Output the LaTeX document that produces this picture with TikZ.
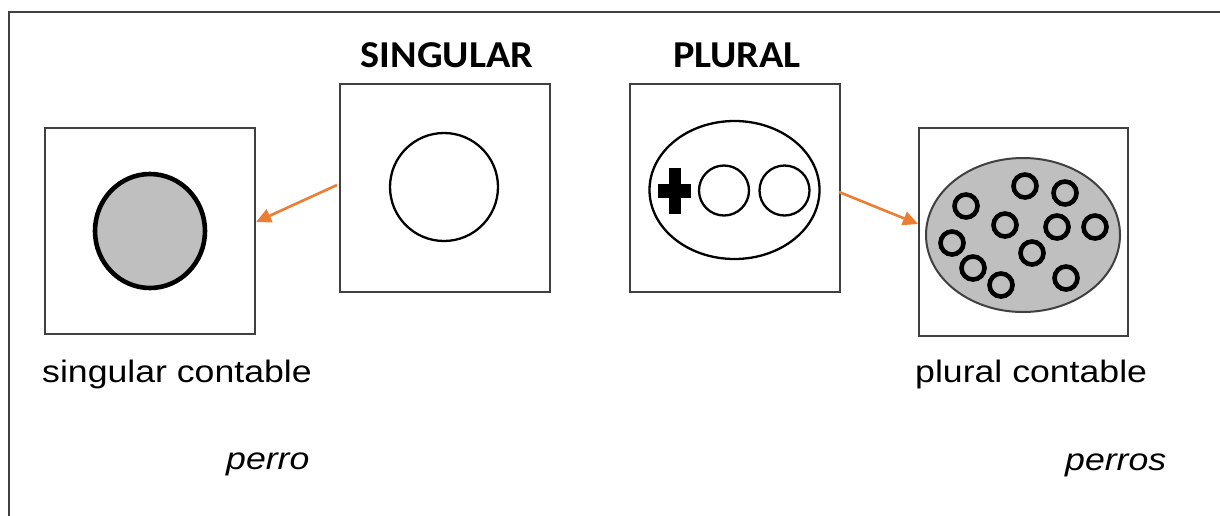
\documentclass[tikz,border=0pt]{standalone}
\usepackage{fontspec}
\setmainfont{Liberation Sans}
\newfontfamily\labfont[FakeStretch=1.15]{Liberation Sans}
\newfontfamily\headfont[FakeStretch=1.06]{Carlito}
\usetikzlibrary{arrows.meta}
\definecolor{boxgray}{HTML}{404040}
\definecolor{fillgray}{HTML}{BFBFBF}
\definecolor{arroworange}{HTML}{ED7D31}
\tikzset{
  panel/.style={draw=boxgray, line width=1.8pt, fill=white},
  framel/.style={draw=boxgray, line width=2.6pt},
  thinring/.style={draw=black, line width=2.3pt},
  ring/.style={draw=black, line width=4.6pt},
  conn/.style={draw=arroworange, line width=2.6pt, -{Triangle[length=15pt,width=14pt]}, shorten >=0pt},
  lab/.style={font=\labfont\fontsize{31}{36}\selectfont, anchor=base west, inner sep=0pt},
  labit/.style={lab, font=\labfont\itshape\fontsize{31}{36}\selectfont},
  head/.style={font=\headfont\bfseries\fontsize{38}{42}\selectfont, anchor=base, inner sep=0pt}
}
\begin{document}
\begin{tikzpicture}[x=1pt,y=-1pt]
\useasboundingbox (0,0) rectangle (1220,515);
\fill[white] (0,0) rectangle (1220,515);
% frame (top and left edges visible)
\draw[framel] (9,516) -- (9,12) -- (1221,12);

% panels
\node[panel, minimum width=210pt, minimum height=206pt, inner sep=0pt, anchor=north west] (boxsc) at (44,127) {};
\node[panel, minimum width=210pt, minimum height=208pt, inner sep=0pt, anchor=north west] (boxs) at (339,83) {};
\node[panel, minimum width=210pt, minimum height=208pt, inner sep=0pt, anchor=north west] (boxp) at (629,83) {};
\node[panel, minimum width=209pt, minimum height=208pt, inner sep=0pt, anchor=north west] (boxpc) at (918,127) {};

% headings
\node[head] (hs) at (447,67) {SINGULAR};
\node[head] (hp) at (737,67) {PLURAL};

% singular contable: thick grey circle
\draw[draw=black, line width=4.6pt, fill=fillgray] (150,231) ellipse [x radius=55pt, y radius=57pt];

% singular: open circle
\draw[thinring] (444,187) circle [radius=54pt];

% plural: ellipse with plus and two circles
\draw[thinring] (734.5,190) ellipse [x radius=85pt, y radius=69pt];
\fill[black] (669,168) rectangle (681,214);
\fill[black] (658,184) rectangle (691,198);
\draw[thinring] (724,190.5) circle [radius=25pt];
\draw[thinring] (784.5,190.5) circle [radius=25pt];

% plural contable: grey ellipse with rings
\draw[draw=boxgray, line width=2pt, fill=fillgray] (1023,235) ellipse [x radius=97pt, y radius=77pt];
\foreach \cx/\cy in {966/206, 1025/186, 1065/193, 1005/225, 1057/227, 1095/227, 952/243, 1032/253, 973/268, 1001/285, 1066/278}
  \draw[ring] (\cx,\cy) circle [radius=11.5pt];

% connectors
\coordinate (a1s) at (337,185);
\coordinate (a1e) at (256,222);
\coordinate (a2s) at (839,192);
\coordinate (a2e) at (918,224);
\draw[conn] (a1s) -- (a1e);
\draw[conn] (a2s) -- (a2e);

% labels
\node[lab] (lsc) at (42,382) {singular contable};
\node[lab] (lpc) at (915,382) {plural contable};
\node[labit] (lp1) at (226,469) {perro};
\node[labit] (lp2) at (1065,470) {perros};
\end{tikzpicture}
\end{document}
